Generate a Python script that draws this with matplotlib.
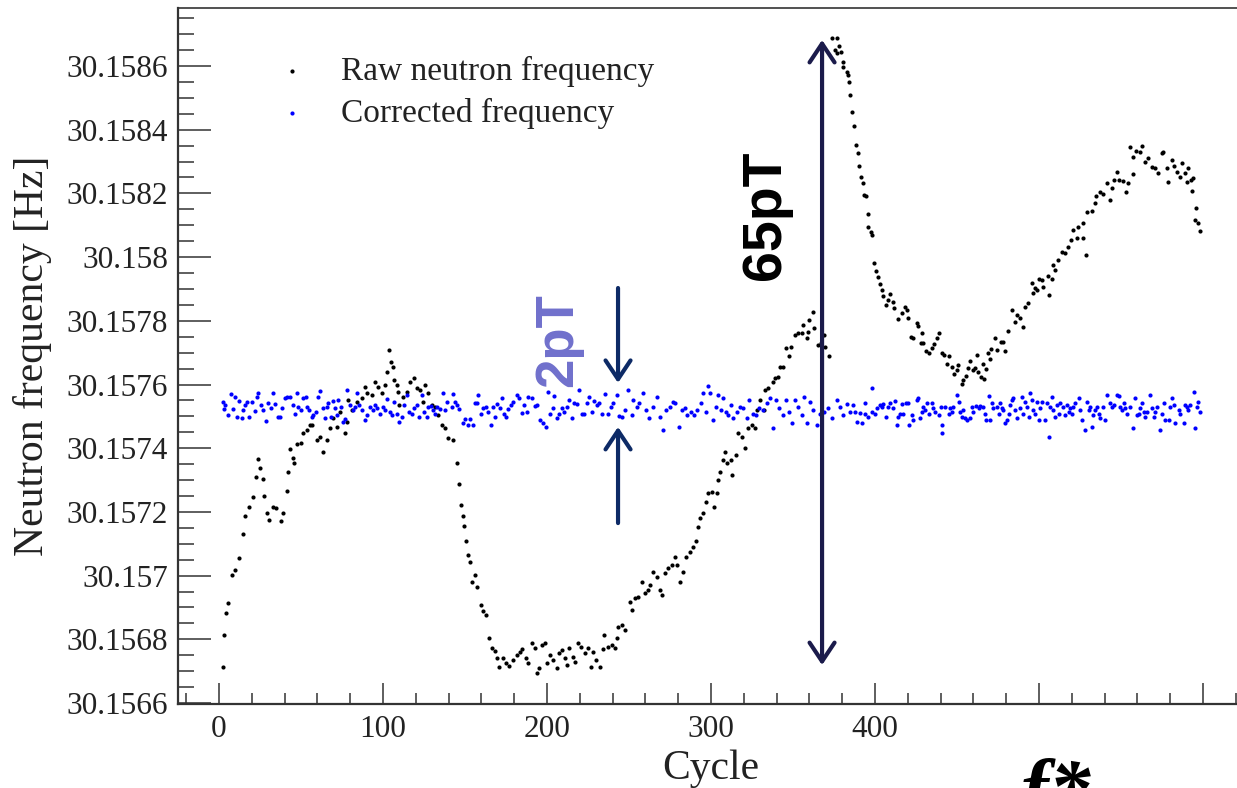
import matplotlib
matplotlib.use("Agg")
import matplotlib.pyplot as plt
import numpy as np
from matplotlib.ticker import MultipleLocator, FixedLocator, FuncFormatter

# Frequencies are stored as offsets in micro-Hz above 30.1566 Hz.
BASE_HZ = 30.1566

raw_cycle = [
    2.4, 3, 4.3, 5.5, 8, 9.8, 12, 14.6, 16, 18, 20.7, 22.6, 24, 25, 26.8, 27.4, 29, 30.5, 33, 35,
    37.8, 39, 41.5, 42, 43.3, 45, 46, 47.6, 50, 51, 53.7, 55.5, 57, 59.8, 61.6, 63.4, 65.8, 67.7, 69.5, 72,
    73.8, 76.8, 78, 78.7, 81, 84, 87, 89, 90, 93, 95, 97, 99.4, 101, 102.4, 103.7, 104.9, 106, 107, 108.5,
    109, 110, 112, 114.6, 116.5, 119, 120.7, 122.6, 124.4, 125.6, 127.4, 129.9, 131.7, 133.5, 136, 137.8, 139.6, 142.7, 145, 146.3,
    147.6, 148.8, 149.4, 150.6, 151.8, 153, 154, 156, 157.3, 159.8, 161, 163, 164.6, 166.5, 168, 169.5, 171, 173, 175, 177,
    179, 181.7, 183.5, 185, 187, 188.4, 190.9, 192.7, 193.9, 195, 197, 198.8, 200, 201.8, 203.7, 206, 207, 209, 211, 212,
    213.4, 215.8, 217, 219, 221, 223, 225, 226.8, 228, 230, 232, 234, 235, 237, 239.6, 241.5, 242.7, 243, 245.7, 247.6,
    250.6, 252, 253.7, 255.5, 258, 259.8, 261.6, 262.8, 264.6, 267, 269, 270, 272, 274, 276, 278, 279, 281, 283, 285,
    287, 289, 291, 292, 293, 295, 297, 298, 300.6, 302, 303.7, 304, 305.5, 307, 308.5, 310, 312, 313, 315, 316.5,
    319, 321, 322.6, 325, 327, 328, 330, 332, 333, 335, 337.8, 339, 341, 342, 344, 346, 347.6, 349, 351, 353,
    355.5, 356, 358.5, 359, 360, 362, 362.5, 365, 367, 369, 369.5, 372, 374, 375.6, 376.6, 377, 378, 379, 380.5, 380.6,
    383, 383.8, 384, 385, 386, 387, 388.4, 389.6, 390, 391.5, 392.7, 393, 394.5, 395.7, 396, 397.6, 398, 399.4, 400.6, 401.8,
    403, 404, 404.9, 406.7, 408, 409, 411, 411.6, 414, 416.5, 418, 419.5, 420, 422, 423, 425.6, 426, 428, 428.7, 429,
    431, 433, 434.8, 436, 437.8, 439, 441, 442, 443.9, 445, 447, 448, 450, 450.6, 453, 453.7, 455.5, 456.7, 458, 459.8,
    461, 462, 463, 464.6, 465.9, 466.5, 467.7, 469, 470, 471, 473, 474.4, 476.8, 478, 479.5, 481, 483.5, 485.4, 486.6, 488.4,
    490, 491.5, 493, 495.7, 496.5, 497.6, 498.7, 500, 501.8, 502.4, 505.5, 506, 507.9, 508.5, 509.8, 511.6, 514, 516, 517.7, 519.5,
    521, 523, 524, 526.8, 527, 528.7, 529, 532, 534, 535, 537, 539, 541.5, 543, 544.5, 546, 547.6, 549, 551, 553,
    554, 555.5, 557, 557.5, 559, 561.6, 563, 564.6, 566.5, 569, 570.7, 572.6, 575, 575.6, 578, 578.7, 581, 582, 584, 586,
    587, 589, 590, 591, 592.7, 593, 594, 595, 596, 597, 598,
]
raw_offset = [
    113, 213, 283, 314, 402, 418, 455, 531, 587, 615, 647, 710, 766, 738, 703, 650, 597, 575, 615, 612,
    571, 597, 666, 725, 797, 769, 754, 813, 816, 848, 857, 873, 873, 826, 835, 788, 826, 863, 895, 866,
    914, 848, 882, 951, 920, 945, 958, 992, 973, 967, 1008, 992, 973, 998, 1039, 1108, 1071, 1055, 1014, 998,
    976, 936, 961, 976, 1008, 1020, 989, 983, 945, 998, 973, 936, 929, 904, 873, 863, 832, 826, 754, 688,
    622, 587, 556, 509, 465, 443, 380, 402, 364, 308, 289, 276, 204, 173, 163, 141, 113, 141, 126, 116,
    135, 151, 160, 170, 141, 126, 188, 173, 94, 110, 182, 188, 126, 151, 135, 110, 157, 166, 141, 119,
    173, 144, 129, 188, 176, 157, 173, 113, 160, 135, 113, 170, 213, 176, 182, 173, 204, 239, 245, 229,
    317, 292, 330, 333, 380, 345, 355, 370, 411, 396, 355, 339, 408, 424, 433, 458, 433, 380, 411, 458,
    474, 490, 509, 553, 581, 597, 631, 659, 662, 615, 659, 700, 725, 763, 788, 754, 763, 716, 779, 848,
    835, 801, 863, 873, 863, 920, 951, 920, 983, 989, 1008, 1020, 1024, 1055, 1055, 1115, 1090, 1118, 1155, 1162,
    1162, 1187, 1146, 1165, 1202, 1228, 1177, 1124, 1130, 1155, 1118, 1090, 2088, 2050, 2088, 2041, 2063, 2044, 1997, 2013,
    1981, 1972, 1950, 1909, 1856, 1812, 1752, 1727, 1686, 1652, 1633, 1595, 1592, 1535, 1494, 1479, 1469, 1381, 1356, 1338,
    1316, 1297, 1278, 1250, 1265, 1284, 1259, 1240, 1206, 1225, 1243, 1234, 1209, 1149, 1146, 1193, 1184, 1130, 1162, 1130,
    1105, 1099, 1115, 1127, 1146, 1162, 1099, 1093, 1064, 1090, 1055, 1033, 1046, 1061, 1002, 1014, 1027, 1052, 1074, 1046,
    1052, 1093, 1039, 1024, 1064, 1017, 1049, 1099, 1080, 1111, 1146, 1108, 1134, 1133, 1105, 1168, 1234, 1196, 1218, 1209,
    1181, 1243, 1256, 1319, 1287, 1303, 1297, 1331, 1328, 1306, 1341, 1281, 1331, 1375, 1360, 1391, 1416, 1413, 1432, 1454,
    1485, 1460, 1494, 1460, 1507, 1407, 1542, 1545, 1570, 1592, 1604, 1598, 1633, 1579, 1617, 1642, 1667, 1642, 1639, 1604,
    1633, 1746, 1661, 1714, 1733, 1730, 1749, 1699, 1711, 1683, 1680, 1664, 1727, 1730, 1680, 1636, 1705, 1686, 1667, 1652,
    1696, 1664, 1636, 1680, 1642, 1608, 1648, 1516, 1554, 1507, 1482,
]

corr_cycle = [
    2.6, 3.0, 3.7, 5.7, 7.1, 8.7, 9.8, 10.8, 12.4, 13.8, 14.8, 15.9, 16.9, 18.5, 19.9, 21.9, 23.0, 24.0, 25.4, 27.0,
    28.7, 30.1, 31.5, 32.7, 34.1, 36.2, 37.2, 38.2, 40.3, 41.7, 43.3, 44.9, 46.3, 47.4, 48.4, 49.8, 51.4, 53.1, 53.9, 55.1,
    56.5, 57.5, 59.2, 60.6, 61.6, 63.2, 64.6, 65.7, 66.7, 68.1, 69.3, 70.7, 71.8, 72.8, 74.2, 75.8, 76.8, 78.3, 79.9, 81.5,
    83.0, 84.4, 85.6, 87.0, 89.0, 90.5, 92.1, 93.7, 95.1, 96.6, 98.2, 99.8, 101.2, 102.7, 104.3, 105.3, 106.7, 108.4, 110.0, 111.4,
    112.8, 114.5, 116.1, 117.5, 118.9, 120.5, 122.2, 123.6, 125.0, 126.7, 127.7, 129.1, 130.3, 131.7, 132.8, 134.8, 136.4, 137.8, 139.3,
    141.9, 142.9, 143.9, 144.9, 146.5, 148.6, 150.0, 152.0, 153.1, 154.7, 156.1, 157.5, 158.1, 159.6, 161.2, 162.8, 164.2, 165.7, 166.9, 168.3,
    169.7, 171.4, 172.4, 173.8, 175.0, 176.4, 177.9, 179.5, 181.5, 183.1, 184.6, 186.0, 187.6, 188.6, 190.7, 192.7, 194.1, 195.7, 197.4, 199.4,
    200.6, 201.9, 203.5, 204.5, 205.9, 207.5, 209.0, 210.4, 212.0, 213.6, 215.1, 216.5, 218.1, 219.7, 221.2, 222.6, 224.2, 225.8, 227.3, 228.7,
    230.3, 231.9, 233.4, 235.4, 237.4, 238.8, 240.5, 242.5, 244.1,
    245.5, 247.5, 249.6, 251.6, 252.6, 254.7, 256.3, 258.3, 260.4, 262.4, 264.8, 266.9, 268.9, 270.5, 272.5, 275.0, 276.6, 278.0, 280.7, 282.1,
    284.1, 285.6, 287.6, 289.6, 291.7, 293.7, 294.9, 297.0, 298.4, 299.4, 301.4, 303.0, 304.5, 305.9, 307.5, 309.1, 310.6, 312.0, 313.6, 315.7,
    317.7, 319.7, 321.8, 323.4, 325.4, 327.4, 329.5, 331.9, 334.0, 336.0, 338.0, 339.6, 341.7, 343.7, 345.7, 347.8, 349.2, 351.2, 353.3, 355.3,
    356.7, 358.3, 360.4, 362.4, 364.4, 366.5, 368.9, 371.6, 373.6, 376.6, 378.5, 380.5, 383.0, 385.0,
    386.8, 387.9, 388.9, 390.9, 391.9, 394.0, 394.0, 396.0, 398.0, 398.0, 400.0, 401.1, 403.1, 404.1, 405.1, 406.8, 408.2, 409.2, 410.8, 412.2,
    413.3, 414.3, 415.3, 416.3, 417.3, 419.0, 420.4, 421.0, 422.4, 423.4, 425.5, 426.5, 427.5, 428.5, 429.5, 430.5, 431.6, 432.6, 434.6, 435.6,
    436.6, 438.7, 440.1, 440.7, 440.7, 442.7, 444.8, 445.8, 446.8, 447.8, 449.9, 450.9, 451.9, 452.9, 453.9, 454.9, 456.0, 458.0, 459.0, 460.0,
    461.6, 463.1, 464.1, 466.1, 467.1, 467.7, 469.2, 470.2, 471.2, 472.2, 474.3, 475.3, 476.3, 477.3, 478.3, 479.3, 480.4, 481.4, 482.4, 483.4,
    484.4, 485.4, 486.5, 488.5, 489.5, 490.5, 491.5, 492.6, 493.6, 494.6, 495.6, 496.6, 497.6, 498.6, 499.7, 500.7, 501.7, 503.7, 504.7, 505.8,
    506.8, 507.8, 508.8, 509.8, 510.8, 511.9, 512.9, 514.9, 515.9, 516.9, 518.0, 519.0, 520.0, 521.0, 522.0, 524.1, 525.1, 526.1, 528.1, 529.1,
    530.2, 531.2, 532.2, 533.2, 534.2, 535.2, 536.3, 537.3, 539.3, 540.3, 541.3, 543.0, 544.4, 545.4, 547.4, 548.5, 549.5, 550.5, 551.5, 552.5,
    553.5, 555.6, 557.2, 558.6, 559.6, 560.7, 561.7, 562.7, 563.7, 564.7, 565.7, 567.4, 568.8, 569.8, 570.8, 571.8, 573.5, 574.9, 575.9, 576.9,
    579.0, 580.0, 581.0, 582.0, 583.0, 585.1, 586.1, 588.1, 589.1, 590.1, 591.1, 592.2, 594.2, 595.2, 596.2, 597.2, 598.3,
]
corr_offset = [
    946, 922, 936, 904, 970, 922, 960, 897, 949, 894, 920, 936, 946, 897, 946, 918, 962, 974, 936, 920,
    886, 941, 925, 972, 939, 897, 899, 925, 957, 962, 960, 936, 909, 972, 930, 920, 957, 960, 930, 920,
    899, 904, 915, 960, 981, 925, 894, 930, 941, 899, 949, 925, 904, 951, 930, 883, 891, 983, 936, 920,
    930, 972, 936, 920, 889, 904, 930, 920, 936, 925, 909, 930, 920, 953, 915, 904, 946, 909, 883, 899,
    936, 967, 915, 909, 925, 936, 897, 967, 915, 899, 930, 932, 920, 909, 930, 922, 972, 920, 946,
    930, 970, 946, 936, 922, 878, 891, 873, 891, 873, 941, 943, 967, 909, 925, 930, 915, 873, 930, 899,
    939, 925, 957, 909, 899, 922, 936, 946, 967, 957, 911, 936, 915, 962, 957, 932, 936, 888, 878, 868,
    978, 909, 925, 964, 894, 907, 925, 915, 930, 951, 894, 941, 939, 983, 909, 907, 941, 962, 915, 949,
    936, 943, 909, 970, 909, 930, 941, 967, 901,
    899, 920, 983, 904, 951, 930, 941, 972, 920, 894, 930, 962, 899, 857, 920, 930, 946, 941, 868, 920,
    925, 904, 915, 904, 920, 941, 972, 915, 995, 972, 889, 930, 967, 920, 957, 915, 904, 936, 894, 915,
    930, 925, 894, 951, 909, 904, 925, 920, 941, 957, 862, 951, 925, 904, 951, 915, 878, 951, 930, 904,
    962, 878, 946, 920, 873, 909, 915, 925, 894, 951, 930, 905, 940, 915,
    936, 915, 883, 912, 878, 941, 909, 899, 988, 915, 907, 925, 936, 930, 939, 899, 930, 941, 925, 949,
    873, 899, 909, 939, 909, 941, 941, 873, 904, 888, 951, 957, 894, 915, 930, 920, 941, 909, 941, 925,
    915, 904, 930, 873, 847, 930, 909, 925, 915, 930, 967, 946, 915, 899, 920, 894, 888, 894, 930, 915,
    932, 925, 932, 930, 909, 888, 964, 888, 941, 925, 930, 909, 941, 925, 920, 878, 888, 909, 936, 951,
    957, 920, 894, 925, 962, 909, 946, 930, 899, 972, 951, 920, 909, 946, 888, 925, 946, 888, 941, 836,
    930, 962, 920, 899, 936, 909, 941, 930, 904, 936, 915, 925, 909, 930, 941, 957, 920, 888, 857, 946,
    920, 930, 868, 904, 920, 930, 909, 894, 930, 888, 967, 941, 930, 936, 967, 964, 930, 920, 941, 925,
    909, 930, 862, 957, 904, 909, 925, 941, 915, 899, 915, 967, 925, 899, 915, 930, 857, 909, 941, 888,
    888, 930, 957, 936, 878, 920, 909, 878, 936, 930, 920, 936, 977, 862, 930, 946, 915,
]

x_tick_values = [0, 100, 200, 300, 400, 500, 600]
x_tick_labels = ["0", "100", "200", "300", "400", "", ""]


def to_hz(offsets):
    return BASE_HZ + np.asarray(offsets, dtype=float) * 1e-6


def main():
    plt.rcParams["font.family"] = ["Liberation Serif", "DejaVu Serif"]

    fig = plt.figure(figsize=(12.37, 7.88), dpi=100)
    ax = fig.add_axes([0.1439, 0.1066, 0.8618, 0.8832])

    ax.scatter(raw_cycle, to_hz(raw_offset), s=9, color="black", linewidths=0,
               label="Raw neutron frequency", zorder=3)
    ax.scatter(corr_cycle, to_hz(corr_offset), s=9, color="#0000ff", linewidths=0,
               label="Corrected frequency", zorder=3)

    ax.set_xlim(-25, 625)
    ax.set_ylim(BASE_HZ - 3e-6, BASE_HZ + 2182e-6)

    ax.xaxis.set_major_locator(FixedLocator(x_tick_values))
    ax.set_xticklabels(x_tick_labels)
    ax.xaxis.set_minor_locator(MultipleLocator(20))
    ax.yaxis.set_major_locator(MultipleLocator(0.0002))
    ax.yaxis.set_minor_locator(MultipleLocator(0.00005))
    ax.yaxis.set_major_formatter(FuncFormatter(lambda v, p: f"{v:.4f}".rstrip("0")))

    tick_color = "#333333"
    ax.tick_params(which="both", direction="in", colors=tick_color, width=1.1,
                   labelcolor="#222222", labelsize=22.5)
    ax.tick_params(axis="y", which="major", length=24, pad=7)
    ax.tick_params(axis="y", which="minor", length=11.5)
    ax.tick_params(axis="x", which="major", length=15, pad=8)
    ax.tick_params(axis="x", which="minor", length=8)

    for side in ["left", "bottom"]:
        ax.spines[side].set_linewidth(1.6)
        ax.spines[side].set_color(tick_color)
    ax.spines["top"].set_linewidth(1.2)
    ax.spines["top"].set_color(tick_color)
    ax.spines["right"].set_visible(False)

    ax.set_ylabel("Neutron frequency [Hz]", fontsize=30, color="#222222")
    ax.yaxis.set_label_coords(-0.118, 0.5)
    ax.set_xlabel("Cycle", fontsize=30, color="#222222")
    ax.xaxis.set_label_coords(0.5, -0.066)

    leg = ax.legend(loc="upper left", bbox_to_anchor=(0.091, 0.931), frameon=False,
                    fontsize=24, handlelength=1.0, handletextpad=0.97, borderpad=0,
                    borderaxespad=0, labelspacing=0.33, markerscale=1.0)
    for t in leg.get_texts():
        t.set_color("#222222")

    # 65 pT double arrow
    ax.annotate("", xy=(367.7, to_hz(2082)), xytext=(367.7, to_hz(119)),
                arrowprops=dict(arrowstyle="<->,head_length=0.45,head_width=0.3",
                                color="#1b1b4b", lw=3, shrinkA=0, shrinkB=0,
                                mutation_scale=30))
    ax.text(342, to_hz(1532), "65pT", rotation=90, rotation_mode="anchor",
            ha="center", va="baseline", fontsize=40, fontweight="bold",
            family="Liberation Sans", color="black")

    # 2 pT arrows
    arrow_kw = dict(arrowstyle="->,head_length=0.45,head_width=0.3", color="#0d2a66",
                    lw=3, shrinkA=0, shrinkB=0, mutation_scale=30)
    ax.annotate("", xy=(243.3, to_hz(1005)), xytext=(243.3, to_hz(1303)), arrowprops=arrow_kw)
    ax.annotate("", xy=(243.3, to_hz(867)), xytext=(243.3, to_hz(565)), arrowprops=arrow_kw)
    ax.text(215.2, to_hz(1140), "2pT", rotation=90, rotation_mode="anchor",
            ha="center", va="baseline", fontsize=38, fontweight="bold",
            family="Liberation Sans", color="#7070cc")

    # slide text below the plot, cut by the lower edge as in the source image
    fig.text(0.825, -0.035, "f*", fontsize=60, fontweight="bold", style="italic",
             ha="left", va="baseline", color="black")

    fig.savefig("out.png", dpi=100)
    plt.close(fig)


if __name__ == "__main__":
    main()
